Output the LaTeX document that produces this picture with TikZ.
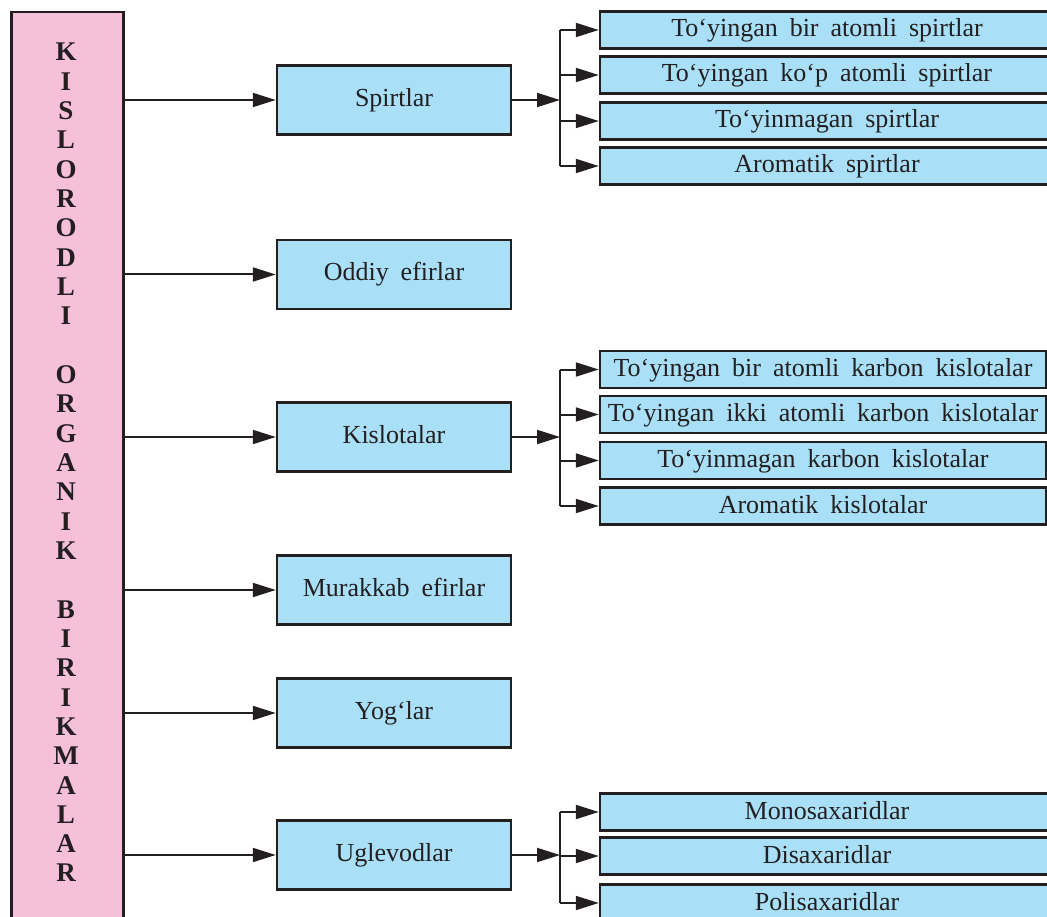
\documentclass[tikz,border=0pt]{standalone}
\usepackage{fontspec}
\setmainfont{Liberation Serif}
\usetikzlibrary{arrows.meta}
\definecolor{pinkf}{RGB}{246,192,217}
\definecolor{bluef}{RGB}{169,224,247}
\definecolor{ink}{RGB}{35,31,32}
\newcommand{\txtfont}{\fontsize{26}{30}\selectfont\spaceskip=12pt\relax}
\begin{document}
\begin{tikzpicture}[x=1pt,y=-1pt,
  mainbox/.style={draw=ink, line width=2.5pt, fill=bluef, minimum width=234pt,
    minimum height=69pt, inner sep=0pt, font=\txtfont, text=ink,
    text height=19pt, text depth=6pt},
  subbox/.style={draw=ink, line width=2.5pt, fill=bluef, minimum height=37pt,
    inner sep=0pt, font=\txtfont, text=ink, text height=19pt, text depth=5pt},
  letter/.style={font=\fontsize{27}{30}\selectfont\bfseries, text=ink,
    inner sep=0pt, text height=18pt, text depth=0pt},
  arr/.style={draw=ink, line width=2pt, -{Triangle[length=23pt,width=14pt]}},
  ln/.style={draw=ink, line width=2pt}
]
\useasboundingbox (0,0) rectangle (1047,917);

% left vertical box
\node[draw=ink, line width=2.5pt, fill=pinkf, minimum width=112pt, minimum height=930pt,
  inner sep=0pt, anchor=north west] (left) at (10,11) {};
\foreach \ch/\i in {K/0,I/1,S/2,L/3,O/4,R/5,O/6,D/7,L/8,I/9,
    O/11,R/12,G/13,A/14,N/15,I/16,K/17,
    B/19,I/20,R/21,I/22,K/23,M/24,A/25,L/26,A/27,R/28}
  \node[letter] (l\i) at (66,{52+29.32*\i}) {\ch};

% main boxes
\node[mainbox] (sp) at (394,100) {Spirtlar};
\node[mainbox] (od) at (394,274.5) {Oddiy efirlar};
\node[mainbox] (ki) at (394,437) {Kislotalar};
\node[mainbox] (mu) at (394,590) {Murakkab efirlar};
\node[mainbox] (yo) at (394,713) {Yog‘lar};
\node[mainbox] (ug) at (394,855) {Uglevodlar};

% arrows from left box
\foreach \n in {sp,od,ki,mu,yo,ug}
  \draw[arr] (left.east |- \n.west) -- (\n.west);

% spirtlar subs
\node[subbox, minimum width=454pt] (s1) at (827,30) {To‘yingan bir atomli spirtlar};
\node[subbox, minimum width=454pt] (s2) at (827,75) {To‘yingan ko‘p atomli spirtlar};
\node[subbox, minimum width=454pt] (s3) at (827,121) {To‘yinmagan spirtlar};
\node[subbox, minimum width=454pt] (s4) at (827,166) {Aromatik spirtlar};
\coordinate (fs) at (560,100);
\draw[arr] (sp.east) -- (fs);
\draw[ln] (s1.west -| fs) -- (s4.west -| fs);
\foreach \n in {s1,s2,s3,s4}
  \draw[arr] (\n.west -| fs) -- (\n.west);

% kislotalar subs
\node[subbox, minimum width=446pt] (k1) at (823,369.5) {To‘yingan bir atomli karbon kislotalar};
\node[subbox, minimum width=446pt] (k2) at (823,414.5) {To‘yingan ikki atomli karbon kislotalar};
\node[subbox, minimum width=446pt] (k3) at (823,460.5) {To‘yinmagan karbon kislotalar};
\node[subbox, minimum width=446pt] (k4) at (823,506) {Aromatik kislotalar};
\coordinate (fk) at (560,437);
\draw[arr] (ki.east) -- (fk);
\draw[ln] (k1.west -| fk) -- (k4.west -| fk);
\foreach \n in {k1,k2,k3,k4}
  \draw[arr] (\n.west -| fk) -- (\n.west);

% uglevodlar subs
\node[subbox, minimum width=454pt] (u1) at (827,812) {Monosaxaridlar};
\node[subbox, minimum width=454pt] (u2) at (827,856) {Disaxaridlar};
\node[subbox, minimum width=454pt] (u3) at (827,903) {Polisaxaridlar};
\coordinate (fu) at (560,855);
\draw[arr] (ug.east) -- (fu);
\draw[ln] (u1.west -| fu) -- (u3.west -| fu);
\foreach \n in {u1,u2,u3}
  \draw[arr] (\n.west -| fu) -- (\n.west);
\end{tikzpicture}
\end{document}
